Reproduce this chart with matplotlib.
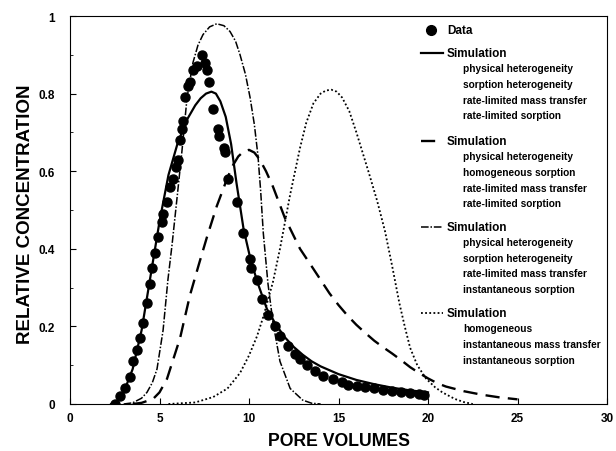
import matplotlib
matplotlib.use("Agg")
import matplotlib.pyplot as plt

plt.rcParams['font.family'] = ['Liberation Sans', 'DejaVu Sans']
plt.rcParams['font.weight'] = 'bold'

# ---- data ----
data_x = [2.51, 2.79, 3.07, 3.35, 3.52, 3.74, 3.91, 4.08, 4.30, 4.47, 4.58, 4.75, 4.92,
          5.14, 5.20, 5.42, 5.59, 5.75, 5.92, 6.03, 6.15, 6.26, 6.31, 6.42, 6.59, 6.70,
          6.87, 7.09, 7.37, 7.54, 7.65, 7.77, 7.99, 8.27, 8.32, 8.60, 8.66, 8.83, 9.33,
          9.66, 10.06, 10.11, 10.45, 10.73, 11.06, 11.45, 11.73, 12.18, 12.57, 12.85,
          13.24, 13.69, 14.13, 14.69, 15.20, 15.53, 16.03, 16.50, 17.00, 17.50, 18.00,
          18.50, 19.00, 19.50, 19.80]
data_y = [0.00, 0.02, 0.04, 0.07, 0.11, 0.14, 0.17, 0.21, 0.26, 0.31, 0.35, 0.39, 0.43,
          0.47, 0.49, 0.52, 0.56, 0.58, 0.61, 0.63, 0.68, 0.71, 0.73, 0.79, 0.82, 0.83,
          0.86, 0.87, 0.90, 0.88, 0.86, 0.83, 0.76, 0.71, 0.69, 0.66, 0.65, 0.58, 0.52,
          0.44, 0.375, 0.35, 0.32, 0.27, 0.23, 0.20, 0.175, 0.15, 0.13, 0.115,
          0.10, 0.085, 0.072, 0.065, 0.057, 0.05, 0.046, 0.043, 0.040, 0.036, 0.033,
          0.031, 0.028, 0.026, 0.022]

# Simulation 1 (solid)
sim1_x = [2.3, 2.6, 3.0, 3.5, 4.0, 4.5, 5.0, 5.5, 6.0, 6.5, 7.0, 7.3, 7.6, 7.9, 8.15,
          8.4, 8.7, 9.0, 9.3, 9.7, 10.1, 10.5, 11.0, 11.5, 12.0, 12.5, 13.0, 13.5, 14.0,
          15.0, 16.0, 17.0, 18.0, 19.0, 20.0]
sim1_y = [0.0, 0.005, 0.03, 0.09, 0.19, 0.33, 0.47, 0.59, 0.67, 0.73, 0.77, 0.788, 0.800,
          0.805, 0.80, 0.78, 0.74, 0.67, 0.57, 0.45, 0.37, 0.31, 0.245, 0.205, 0.172,
          0.147, 0.127, 0.11, 0.097, 0.077, 0.062, 0.051, 0.042, 0.035, 0.03]

# Simulation 2 (dashed)
sim2_x = [3.5, 4.0, 4.64, 5.0, 5.42, 6.15, 6.7, 7.2, 7.65, 8.2, 8.77, 9.1, 9.4, 9.7,
          10.0, 10.3, 10.6, 10.95, 11.34, 12.0, 12.85, 13.5, 14.0, 14.5, 15.0, 15.5,
          16.0, 16.5, 17.0, 17.5, 18.0, 18.5, 19.0, 19.5, 20.0, 20.5, 21.0, 22.0, 23.0,
          24.0, 25.0]
sim2_y = [0.0, 0.003, 0.013, 0.03, 0.065, 0.17, 0.28, 0.36, 0.43, 0.51, 0.58, 0.615,
          0.638, 0.651, 0.655, 0.648, 0.63, 0.60, 0.56, 0.48, 0.40, 0.355, 0.32, 0.285,
          0.255, 0.228, 0.204, 0.183, 0.163, 0.146, 0.13, 0.113, 0.095, 0.08, 0.066,
          0.054, 0.045, 0.033, 0.024, 0.017, 0.012]

# Simulation 3 (dash-dot)
sim3_x = [3.0, 3.5, 4.0, 4.3, 4.6, 4.86, 5.2, 5.47, 5.7, 6.0, 6.25, 6.54, 6.87, 7.15,
          7.43, 7.8, 8.2, 8.6, 8.94, 9.25, 9.5, 9.8, 10.06, 10.3, 10.5, 10.65, 10.8,
          11.06, 11.34, 11.73, 12.3, 13.0, 13.5, 14.0]
sim3_y = [0.0, 0.003, 0.015, 0.03, 0.055, 0.09, 0.19, 0.32, 0.41, 0.54, 0.65, 0.79,
          0.88, 0.925, 0.952, 0.972, 0.98, 0.975, 0.96, 0.935, 0.90, 0.85, 0.79, 0.72,
          0.64, 0.55, 0.44, 0.31, 0.21, 0.11, 0.04, 0.01, 0.002, 0.0]

# Simulation 4 (dotted)
sim4_x = [5.5, 7.0, 8.0, 8.8, 9.5, 10.0, 10.45, 10.8, 11.34, 11.73, 12.3, 12.85, 13.2,
          13.6, 14.0, 14.3, 14.6, 14.9, 15.2, 15.6, 16.0, 16.3, 16.7, 17.15, 17.6, 18.0,
          18.4, 18.7, 19.0, 19.4, 19.9, 20.4, 20.8, 21.5, 22.0, 22.5]
sim4_y = [0.0, 0.004, 0.018, 0.04, 0.08, 0.125, 0.175, 0.225, 0.315, 0.40, 0.54, 0.66,
          0.725, 0.775, 0.80, 0.808, 0.81, 0.805, 0.79, 0.755, 0.70, 0.655, 0.595, 0.525,
          0.445, 0.355, 0.26, 0.2, 0.145, 0.1, 0.065, 0.043, 0.03, 0.013, 0.005, 0.0]

x_ticks = [0, 5, 10, 15, 20, 25, 30]
y_ticks = [0, 0.2, 0.4, 0.6, 0.8, 1.0]
y_tick_labels = ['0', '0.2', '0.4', '0.6', '0.8', '1']

legend_entries = [
    ('Simulation', ['physical heterogeneity', 'sorption heterogeneity',
                    'rate-limited mass transfer', 'rate-limited sorption']),
    ('Simulation', ['physical heterogeneity', 'homogeneous sorption',
                    'rate-limited mass transfer', 'rate-limited sorption']),
    ('Simulation', ['physical heterogeneity', 'sorption heterogeneity',
                    'rate-limited mass transfer', 'instantaneous sorption']),
    ('Simulation', ['homogeneous', 'instantaneous mass transfer',
                    'instantaneous sorption']),
]

W, H = 616, 452
fig = plt.figure(figsize=(W / 100, H / 100), dpi=100)
ax = fig.add_axes([70 / W, 1 - 405 / H, (607 - 70) / W, (405 - 17) / H])

styles = [
    dict(color='black', lw=1.6, ls='-'),
    dict(color='black', lw=1.7, ls=(0, (6, 3.5))),
    dict(color='black', lw=1.1, ls=(0, (5, 1.2, 1, 1.2))),
    dict(color='black', lw=1.3, ls=(0, (1, 1.3))),
]

ax.plot(sim1_x, sim1_y, **styles[0])
ax.plot(sim2_x, sim2_y, **styles[1])
ax.plot(sim3_x, sim3_y, **styles[2])
ax.plot(sim4_x, sim4_y, **styles[3])
ax.plot(data_x, data_y, 'o', color='black', ms=6.5, mec='black', zorder=5)

ax.set_xlim(0, 30)
ax.set_ylim(0, 1)
ax.set_xticks(x_ticks)
ax.set_xticklabels([str(v) for v in x_ticks], fontsize=8.5, fontweight='bold')
ax.set_yticks(y_ticks)
ax.set_yticklabels(y_tick_labels, fontsize=8.5, fontweight='bold')
ax.set_yticks([0.1, 0.3, 0.5, 0.7, 0.9], minor=True)
ax.tick_params(axis='x', which='major', direction='in', length=4, width=0.8, pad=6)
ax.tick_params(axis='y', which='major', direction='in', length=4, width=0.8, pad=11)
ax.tick_params(axis='both', which='minor', direction='in', length=2.5, width=0.6)
for s in ax.spines.values():
    s.set_linewidth(0.8)

fig.text(339 / W, 1 - 442 / H, 'PORE VOLUMES', ha='center', va='center',
         fontsize=12.7, fontweight='bold')
fig.text(26 / W, 1 - 214.5 / H, 'RELATIVE CONCENTRATION', ha='center', va='center',
         rotation=90, fontsize=13.5, fontweight='bold')

# Legend (custom layout)
def fx(px):
    return px / W

def fy(py):
    return 1 - py / H

fig.lines.append(plt.Line2D([fx(431)], [fy(31)], marker='o', ms=7, color='black',
                            transform=fig.transFigure))
fig.text(fx(447), fy(31), 'Data', fontsize=8.5, fontweight='bold', va='center')

head_y = [54, 142, 228, 314]
sub_step = 15.5
for (head, subs), y0, st in zip(legend_entries, head_y, styles):
    fig.lines.append(plt.Line2D([fx(421), fx(443)], [fy(y0), fy(y0)],
                                transform=fig.transFigure, **st))
    fig.text(fx(447), fy(y0), head, fontsize=8.5, fontweight='bold', va='center')
    for i, s in enumerate(subs):
        fig.text(fx(463), fy(y0 + sub_step * (i + 1)), s, fontsize=7.3,
                 fontweight='bold', va='center')

fig.savefig('out.png', dpi=100)
